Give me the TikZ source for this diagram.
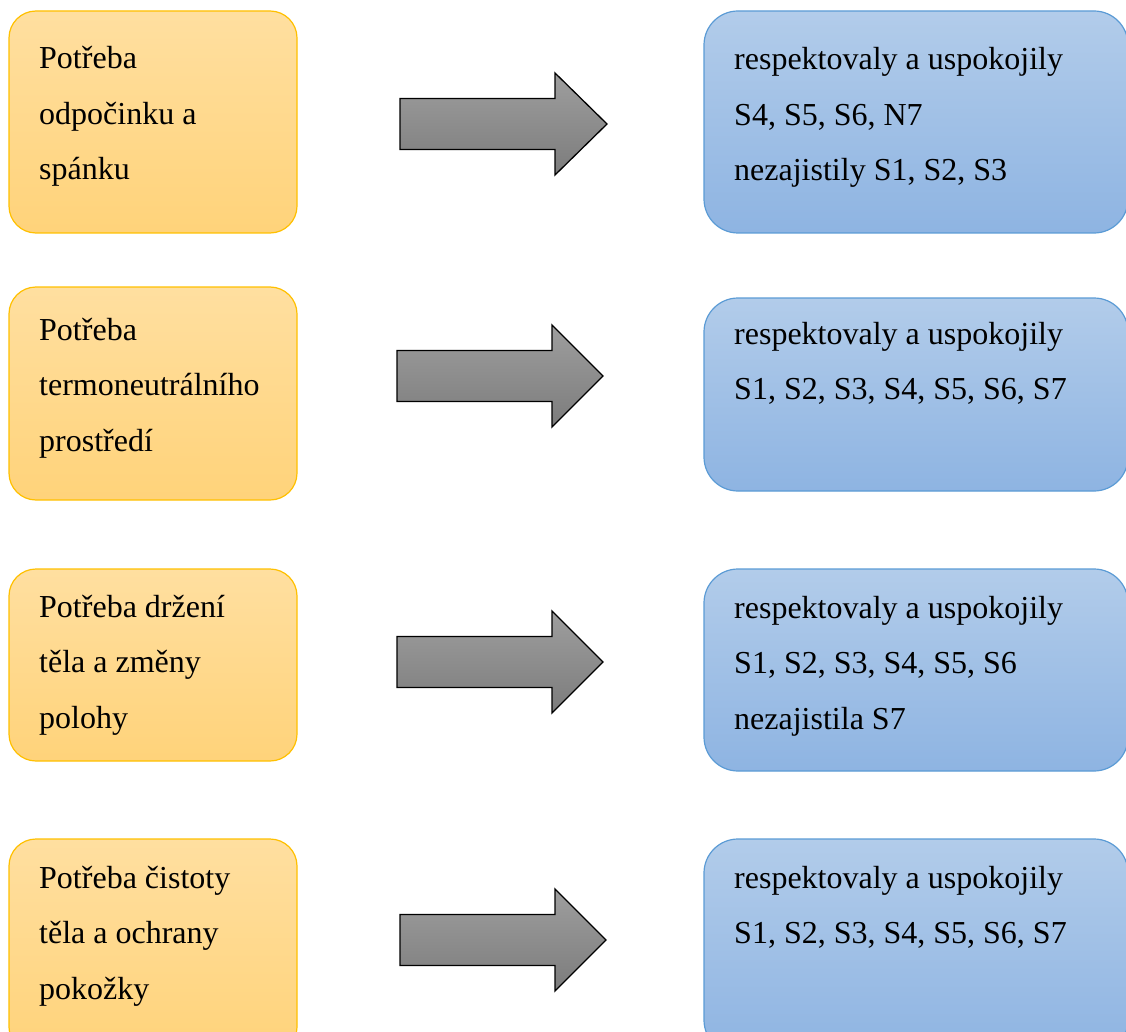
\documentclass[tikz,border=0pt]{standalone}
\usepackage{fontspec}
\setmainfont{Liberation Serif}
\definecolor{needtop}{RGB}{255,223,160}
\definecolor{needbot}{RGB}{255,211,122}
\definecolor{needline}{RGB}{255,192,0}
\definecolor{restop}{RGB}{178,204,234}
\definecolor{resbot}{RGB}{142,180,226}
\definecolor{resline}{RGB}{91,155,213}
\definecolor{arrtop}{RGB}{158,158,158}
\definecolor{arrbot}{RGB}{124,124,124}
\begin{document}
\begin{tikzpicture}[x=1pt,y=-1pt,
  needbox/.style={draw=needline, line width=1.2pt, rounded corners=27pt,
    top color=needtop, bottom color=needbot, anchor=north west,
    inner sep=0pt, outer sep=0pt},
  resultbox/.style={draw=resline, line width=1.2pt, rounded corners=34pt,
    top color=restop, bottom color=resbot, anchor=north west,
    inner sep=0pt, outer sep=0pt},
  blockarrow/.style={draw=black, line width=1.3pt, line join=miter,
    top color=arrtop, bottom color=arrbot},
  label/.style={anchor=base west, inner sep=0pt,
    font=\fontsize{32}{55.5}\selectfont}
]
\useasboundingbox (0,0) rectangle (1126,1032);

% needs (left column)
\node[needbox, minimum width=288pt, minimum height=222pt] (need1) at (9,11) {};
\node[needbox, minimum width=288pt, minimum height=213pt] (need2) at (9,287) {};
\node[needbox, minimum width=288pt, minimum height=192pt] (need3) at (9,569) {};
\node[needbox, minimum width=288pt, minimum height=215pt] (need4) at (9,839) {};

% results (right column)
\node[resultbox, minimum width=424pt, minimum height=222pt] (res1) at (704,11) {};
\node[resultbox, minimum width=424pt, minimum height=193pt] (res2) at (704,298) {};
\node[resultbox, minimum width=424pt, minimum height=202pt] (res3) at (704,569) {};
\node[resultbox, minimum width=424pt, minimum height=215pt] (res4) at (704,839) {};

% texts
\node[label] (needtext1) at (39,69) {\parbox[t]{300pt}{Potřeba\\odpočinku a\\spánku}};
\node[label] (needtext2) at (39,340) {\parbox[t]{300pt}{Potřeba\\termoneutrálního\\prostředí}};
\node[label] (needtext3) at (39,617) {\parbox[t]{300pt}{Potřeba držení\\těla a změny\\polohy}};
\node[label] (needtext4) at (39,888) {\parbox[t]{300pt}{Potřeba čistoty\\těla a ochrany\\pokožky}};

\node[label] (restext1) at (734,70) {\parbox[t]{400pt}{respektovaly a uspokojily\\S4, S5, S6, N7\\nezajistily S1, S2, S3}};
\node[label] (restext2) at (734,344) {\parbox[t]{400pt}{respektovaly a uspokojily\\S1, S2, S3, S4, S5, S6, S7}};
\node[label] (restext3) at (734,618) {\parbox[t]{400pt}{respektovaly a uspokojily\\S1, S2, S3, S4, S5, S6\\nezajistila S7}};
\node[label] (restext4) at (734,888) {\parbox[t]{400pt}{respektovaly a uspokojily\\S1, S2, S3, S4, S5, S6, S7}};

% block arrows: left end, centre line, head base, tip
\foreach \xl/\yc/\xb/\xt in {400/124/555/607, 397/376/552/603, 397/662/552/603, 400/940/555/606}{
  \draw[blockarrow] (\xl,\yc-25.5) -- (\xb,\yc-25.5) -- (\xb,\yc-51) -- (\xt,\yc)
    -- (\xb,\yc+51) -- (\xb,\yc+25.5) -- (\xl,\yc+25.5) -- cycle;
}
\end{tikzpicture}
\end{document}
